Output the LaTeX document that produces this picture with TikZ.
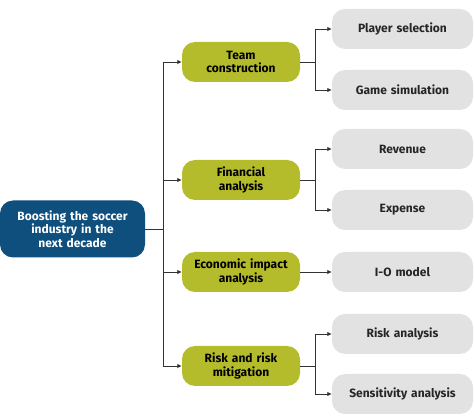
\documentclass[tikz,border=0pt]{standalone}
\usepackage{fontspec}
\setmainfont{Fira Sans}
\usetikzlibrary{arrows.meta}
\definecolor{rootblue}{HTML}{0F4F7D}
\definecolor{midolive}{HTML}{B4BC2C}
\definecolor{leafgray}{HTML}{E2E2E2}
\definecolor{linegray}{HTML}{333333}
\tikzset{every node/.style={font=\fontsize{12}{13.5}\selectfont\bfseries, align=center},
	root box/.style={fill=rootblue, text=white, rounded corners=13pt,
		minimum width=145pt, minimum height=57pt, text width=135pt},
	mid box/.style={fill=midolive, text=black, rounded corners=13pt,
		minimum width=118pt, minimum height=40pt, text width=114pt},
	leaf box/.style={fill=leafgray, text=black!85, rounded corners=13pt,
		minimum width=141pt, minimum height=40pt, text width=137pt},
	link/.style={draw=linegray, line width=0.8pt, -{Latex[length=4.5pt,width=4.5pt]}},
	plain/.style={draw=linegray, line width=0.8pt}}

\begin{document}
\begin{tikzpicture}
	[x=1pt, y=-1pt, inner sep=0pt]

	\useasboundingbox (0,0) rectangle (474,419);

	% root
	\node [root box] (root) at (72.5,229) {Boosting the soccer\\industry in the\\next decade};
	\coordinate (trunk) at (163,229);

	% second level
	\node [mid box] (team) at (241,62) {Team\\construction};
	\node [mid box] (finance) at (241,180) {Financial\\analysis};
	\node [mid box] (econ) at (241,272) {Economic impact\\analysis};
	\node [mid box] (risk) at (241,366) {Risk and risk\\mitigation};

	% third level
	\node [leaf box] (player) at (402.5,29) {Player selection};
	\node [leaf box] (game) at (402.5,90) {Game simulation};
	\node [leaf box] (revenue) at (402.5,149) {Revenue};
	\node [leaf box] (expense) at (402.5,210) {Expense};
	\node [leaf box] (io) at (402.5,272) {I-O model};
	\node [leaf box] (riskan) at (402.5,334) {Risk analysis};
	\node [leaf box] (sens) at (402.5,394) {Sensitivity analysis};

	% connectors
	\draw [plain] (root.east) -- (trunk);
	\foreach \mid in {team,finance,econ,risk}
		\draw [link] (trunk) |- (\mid.west);

	\draw [link] (team.east) -- ++(15,0) |- (player.west);
	\draw [link] (team.east) -- ++(15,0) |- (game.west);
	\draw [link] (finance.east) -- ++(15,0) |- (revenue.west);
	\draw [link] (finance.east) -- ++(15,0) |- (expense.west);
	\draw [link] (econ.east) -- (io.west);
	\draw [link] (risk.east) -- ++(15,0) |- (riskan.west);
	\draw [link] (risk.east) -- ++(15,0) |- (sens.west);
\end{tikzpicture}
\end{document}
